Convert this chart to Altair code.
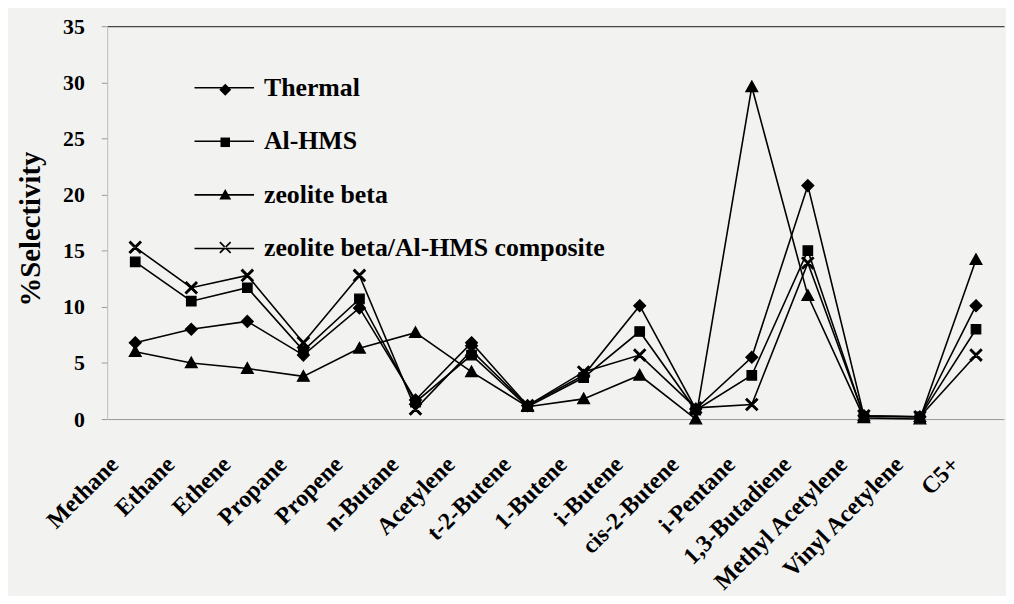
import altair as alt
import pandas as pd

categories = ["Methane", "Ethane", "Ethene", "Propane", "Propene", "n-Butane",
              "Acetylene", "t-2-Butene", "1-Butene", "i-Butene", "cis-2-Butene",
              "i-Pentane", "1,3-Butadiene", "Methyl Acetylene", "Vinyl Acetylene", "C5+"]
series_names = ["Thermal", "Al-HMS", "zeolite beta", "zeolite beta/Al-HMS composite"]

thermal = [6.8, 8.0, 8.7, 5.7, 9.9, 1.7, 6.8, 1.2, 3.9, 10.1, 0.9, 5.5, 20.8, 0.3, 0.2, 10.1]
al_hms = [14.0, 10.5, 11.7, 6.1, 10.7, 1.5, 5.7, 1.1, 3.7, 7.8, 0.8, 3.9, 15.0, 0.2, 0.2, 8.0]
zeolite_beta = [6.0, 5.0, 4.5, 3.8, 6.3, 7.7, 4.2, 1.1, 1.8, 3.9, 0.0, 29.6, 11.0, 0.1, 0.0, 14.2]
composite = [15.3, 11.7, 12.8, 6.8, 12.8, 0.9, 6.1, 1.2, 4.2, 5.7, 1.0, 1.3, 13.9, 0.3, 0.2, 5.7]

y_ticks = [0, 5, 10, 15, 20, 25, 30, 35]

shape_paths = [
    "M0,-1L1,0L0,1L-1,0Z",                    # diamond
    "M-0.8,-0.8L0.8,-0.8L0.8,0.8L-0.8,0.8Z",  # square
    "M0,-1L1,0.8L-1,0.8Z",                    # triangle
    "M-1,-0.8L-0.8,-1L1,0.8L0.8,1Z M-1,0.8L-0.8,1L1,-0.8L0.8,-1Z",  # x (filled bars)
]

rows = []
for s, vals in zip(series_names, [thermal, al_hms, zeolite_beta, composite]):
    for c, v in zip(categories, vals):
        rows.append({"category": c, "series": s, "series_pt": s, "value": v})
df = pd.DataFrame(rows)

FONT = "Liberation Serif"

x_enc = alt.X(
    "category:N", sort=categories,
    scale=alt.Scale(type="point", padding=0.5),
    axis=alt.Axis(title=None, labelAngle=-45, labelAlign="right", labelBaseline="middle",
                  labelFont=FONT, labelFontSize=24, labelFontWeight="bold", labelColor="black",
                  labelPadding=42, labelOffset=-21, ticks=False, domainColor="#999999",
                  labelOverlap=False, labelLimit=0),
)
y_enc = alt.Y(
    "value:Q",
    scale=alt.Scale(domain=[0, 35], nice=False),
    axis=alt.Axis(title="%Selectivity", values=y_ticks, grid=True, gridColor="#444444",
                  gridOpacity={"condition": {"test": "datum.value === 35", "value": 1}, "value": 0},
                  gridWidth=1.2,
                  labelFont=FONT, labelFontSize=22, labelFontWeight="bold", labelColor="black",
                  labelPadding=17, tickSize=6, tickColor="#999999", domainColor="#bbbbbb",
                  titleFont=FONT, titleFontSize=29, titleFontWeight="bold", titleColor="black",
                  titleX=-77, titleY=204, titleBaseline="middle", titleAngle=270),
)

lines = alt.Chart(df).mark_line(strokeWidth=1.6).encode(
    x=x_enc, y=y_enc,
    color=alt.Color("series:N", sort=series_names,
                    scale=alt.Scale(range=["black"] * 4),
                    legend=alt.Legend(title=None, orient="none", legendX=87, legendY=31,
                                      symbolType="stroke", symbolSize=3600, symbolStrokeWidth=1.6,
                                      labelFont=FONT, labelFontSize=26, labelFontWeight="bold",
                                      labelColor="black", labelOffset=9, rowPadding=10,
                                      padding=0, labelLimit=0)),
)

points = alt.Chart(df).mark_point(filled=True, size=144, fill="black", stroke="black",
                                  strokeWidth=1.2, opacity=1).encode(
    x=x_enc, y=y_enc,
    shape=alt.Shape("series_pt:N", sort=series_names,
                    scale=alt.Scale(range=shape_paths),
                    legend=alt.Legend(title=None, orient="none", legendX=106, legendY=51,
                                      symbolSize=144, symbolFillColor="black",
                                      symbolStrokeColor="black", symbolStrokeWidth=1.2,
                                      labelFont=FONT, labelFontSize=26, labelFontWeight="bold",
                                      labelExpr="''", labelOffset=9, rowPadding=27,
                                      padding=0, labelLimit=0)),
)

chart = alt.layer(lines, points).properties(
    width=904, height=396,
    padding={"left": 100, "top": 16, "right": 2, "bottom": 176},
    autosize=alt.AutoSizeParams(type="none"),
    background="#f2f2f0",
).configure_view(strokeWidth=0)

chart.save("out.html", embed_options={"renderer": "svg", "actions": False})
